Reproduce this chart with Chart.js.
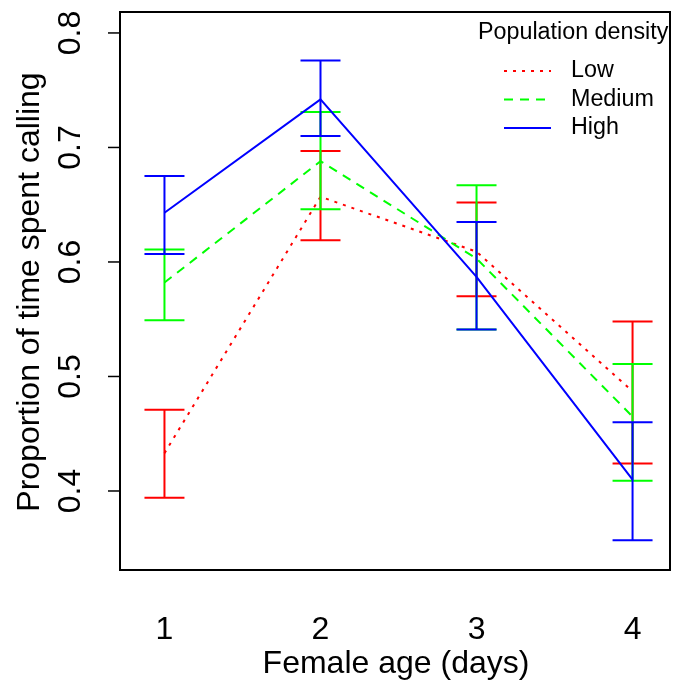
<!DOCTYPE html>
<html>
<head>
<meta charset="utf-8">
<script src="https://cdn.jsdelivr.net/npm/chart.js@4.4.0/dist/chart.umd.min.js"></script>
<style>
  html, body { margin: 0; padding: 0; background: #fff; }
  #wrap { width: 678px; height: 688px; }
</style>
</head>
<body>
<div id="wrap"><canvas id="chart" width="678" height="688"></canvas></div>
<script>
const days = [1, 2, 3, 4];
const yTicks = [0.4, 0.5, 0.6, 0.7, 0.8];

const lowMean  = [0.433, 0.657, 0.609, 0.487];
const lowUpper = [0.471, 0.697, 0.652, 0.548];
const lowLower = [0.394, 0.619, 0.570, 0.424];

const medMean  = [0.582, 0.688, 0.603, 0.465];
const medUpper = [0.611, 0.731, 0.667, 0.511];
const medLower = [0.549, 0.646, 0.541, 0.409];

const highMean  = [0.643, 0.742, 0.587, 0.410];
const highUpper = [0.675, 0.776, 0.635, 0.460];
const highLower = [0.607, 0.710, 0.541, 0.357];

const FONT = '"Liberation Sans", Arial, sans-serif';

const series = [
  { label: 'Low', mean: lowMean, up: lowUpper, lo: lowLower, color: '#ff0000', dash: [3, 6], order: 3 },
  { label: 'Medium', mean: medMean, up: medUpper, lo: medLower, color: '#00ff00', dash: [9, 7], order: 2 },
  { label: 'High', mean: highMean, up: highUpper, lo: highLower, color: '#0000ff', dash: [], order: 1 }
];

const toPoints = (arr) => days.map((d, i) => ({ x: d, y: arr[i] }));

// error bars drawn right after each series line
const errorBars = {
  id: 'errorBars',
  afterDatasetDraw(chart, args) {
    const s = series[args.index];
    const ctx = chart.ctx, xs = chart.scales.x, ys = chart.scales.y;
    ctx.save();
    ctx.strokeStyle = s.color;
    ctx.lineWidth = 2;
    ctx.setLineDash([]);
    days.forEach((d, i) => {
      const px = xs.getPixelForValue(d);
      const pu = ys.getPixelForValue(s.up[i]);
      const pl = ys.getPixelForValue(s.lo[i]);
      ctx.beginPath();
      ctx.moveTo(px, pu); ctx.lineTo(px, pl);
      ctx.moveTo(px - 20, pu); ctx.lineTo(px + 20, pu);
      ctx.moveTo(px - 20, pl); ctx.lineTo(px + 20, pl);
      ctx.stroke();
    });
    ctx.restore();
  }
};

// base-graphics style frame, axes and legend
const frame = {
  id: 'frame',
  afterDraw(chart) {
    const ctx = chart.ctx, a = chart.chartArea;
    const xs = chart.scales.x, ys = chart.scales.y;
    ctx.save();
    ctx.strokeStyle = '#000';
    ctx.lineWidth = 2;
    ctx.strokeRect(a.left, a.top, a.right - a.left, a.bottom - a.top);

    ctx.fillStyle = '#000';
    ctx.font = '32px ' + FONT;
    ctx.textAlign = 'center';
    ctx.textBaseline = 'middle';

    // y ticks, labels parallel to the axis
    ctx.lineWidth = 1.5;
    yTicks.forEach(v => {
      const py = ys.getPixelForValue(v);
      ctx.beginPath();
      ctx.moveTo(a.left - 12, py); ctx.lineTo(a.left, py);
      ctx.stroke();
      ctx.save();
      ctx.translate(71, py);
      ctx.rotate(-Math.PI / 2);
      ctx.fillText(v.toFixed(1), 0, 0);
      ctx.restore();
    });

    // x labels (no axis line)
    days.forEach(d => {
      ctx.fillText(String(d), xs.getPixelForValue(d), 630);
    });

    ctx.fillText('Female age (days)', (a.left + a.right) / 2 + 1, 664);
    ctx.save();
    ctx.translate(30, (a.top + a.bottom) / 2 + 1);
    ctx.rotate(-Math.PI / 2);
    ctx.fillText('Proportion of time spent calling', 0, 0);
    ctx.restore();

    // legend
    ctx.font = '23.3px ' + FONT;
    ctx.textAlign = 'left';
    ctx.fillText('Population density', 478, 33);
    series.forEach((s, i) => {
      const py = 71 + i * 28.5;
      ctx.strokeStyle = s.color;
      ctx.lineWidth = 2;
      ctx.setLineDash(s.dash);
      ctx.beginPath();
      ctx.moveTo(504, py); ctx.lineTo(551, py);
      ctx.stroke();
      ctx.setLineDash([]);
      ctx.fillText(s.label, 571, py);
    });
    ctx.restore();
  }
};

new Chart(document.getElementById('chart'), {
  type: 'line',
  data: {
    datasets: series.map(s => ({
      label: s.label,
      data: toPoints(s.mean),
      borderColor: s.color,
      borderWidth: 2,
      borderDash: s.dash,
      pointRadius: 0,
      tension: 0,
      fill: false,
      order: s.order
    }))
  },
  options: {
    responsive: false,
    animation: false,
    layout: { padding: { left: 120, right: 8, top: 12, bottom: 118 } },
    plugins: { legend: { display: false }, tooltip: { enabled: false } },
    scales: {
      x: { type: 'linear', min: 0.715, max: 4.24, display: false },
      y: { type: 'linear', min: 0.331, max: 0.8183, display: false }
    }
  },
  plugins: [errorBars, frame]
});
</script>
</body>
</html>
